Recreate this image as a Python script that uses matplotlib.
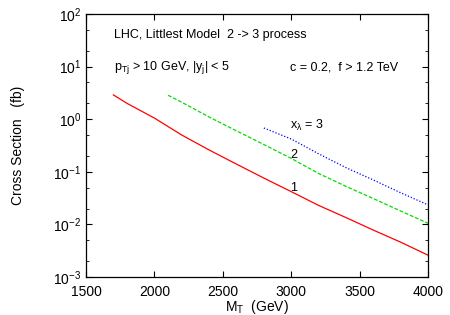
import matplotlib
matplotlib.use("Agg")
import matplotlib.pyplot as plt
from matplotlib.ticker import LogLocator, NullFormatter

# Data
m_x1 = [1700, 1800, 1900, 2000, 2200, 2400, 2600, 2800, 3000, 3200, 3400, 3600, 3800, 4000]
sig_x1 = [2.9, 2.0, 1.45, 1.05, 0.5, 0.26, 0.14, 0.076, 0.042, 0.023, 0.0135, 0.0078, 0.0046, 0.0026]

m_x2 = [2100, 2200, 2400, 2600, 2800, 3000, 3200, 3400, 3600, 3800, 4000]
sig_x2 = [2.85, 2.1, 1.1, 0.6, 0.33, 0.18, 0.093, 0.053, 0.031, 0.018, 0.0105]

m_x3 = [2800, 3000, 3200, 3400, 3600, 3800, 4000]
sig_x3 = [0.68, 0.42, 0.22, 0.12, 0.07, 0.04, 0.0235]

x_ticks = [1500, 2000, 2500, 3000, 3500, 4000]

plt.rcParams['font.family'] = ['Liberation Sans', 'DejaVu Sans']
plt.rcParams['mathtext.fontset'] = 'custom'
plt.rcParams['mathtext.rm'] = 'Liberation Sans'
plt.rcParams['mathtext.it'] = 'Liberation Sans:italic'
plt.rcParams['mathtext.sf'] = 'Liberation Sans'
plt.rcParams['mathtext.default'] = 'regular'

fig = plt.figure(figsize=(4.5, 3.15), dpi=100)
ax = fig.add_axes([86/450, 1-277/315, (428-86)/450, (277-14)/315])

ax.plot(m_x1, sig_x1, color='#ff0000', lw=0.9, ls='-')
ax.plot(m_x2, sig_x2, color='#00dd00', lw=0.9, ls=(0, (3, 1.5)))
ax.plot(m_x3, sig_x3, color='#0000ff', lw=0.9, ls=(0, (1, 1.5)))

ax.set_yscale('log')
ax.set_xlim(1500, 4000)
ax.set_ylim(1e-3, 1e2)
ax.set_xticks(x_ticks)
ax.set_xticklabels([str(t) for t in x_ticks])
ax.yaxis.set_major_locator(LogLocator(base=10, numticks=10))
ax.yaxis.set_minor_locator(LogLocator(base=10, subs=[2, 5], numticks=10))
ax.yaxis.set_minor_formatter(NullFormatter())
ax.tick_params(which='both', direction='in', top=True, right=True, labelsize=10)
ax.tick_params(which='major', length=4)
ax.tick_params(which='minor', length=2)
ax.tick_params(axis='x', pad=6)

ax.set_xlabel(r'M$_\mathrm{T}$  (GeV)', fontsize=10, labelpad=-1)
ax.set_ylabel('Cross Section   (fb)', fontsize=10, labelpad=20)

ax.text(1705, 10**1.6, 'LHC, Littlest Model  2 -> 3 process', fontsize=9, va='center')
ax.text(1705, 10**0.99, r'p$_\mathrm{Tj}$ > 10 GeV, |y$_\mathrm{j}$| < 5', fontsize=9, va='center')
ax.text(2990, 10**0.99, 'c = 0.2,  f > 1.2 TeV', fontsize=9, va='center')
ax.text(2990, 0.75, r'x$_\lambda$ = 3', fontsize=9, va='center')
ax.text(2990, 0.21, '2', fontsize=9, va='center')
ax.text(2990, 0.05, '1', fontsize=9, va='center')

for s in ax.spines.values():
    s.set_linewidth(0.9)

fig.savefig('out.png', dpi=100)
